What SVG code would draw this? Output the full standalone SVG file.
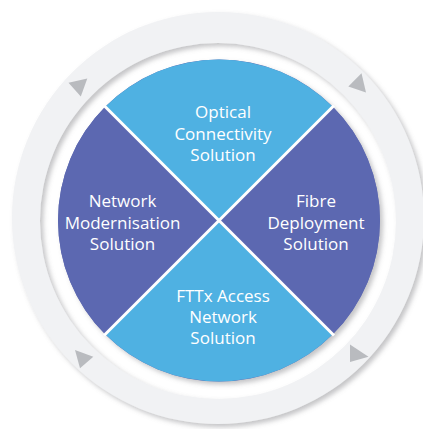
<svg xmlns="http://www.w3.org/2000/svg" width="423" height="429" viewBox="0 0 423 429">
  <defs>
    <filter id="shadow" x="-10%" y="-10%" width="125%" height="125%">
      <feDropShadow dx="3" dy="3" stdDeviation="2.5" flood-color="#7a7c80" flood-opacity="0.45"/>
    </filter>
  </defs>
  <style>
    .ring { fill: #f1f2f4; }
    .arrow { fill: #b9bbbf; }
    .light { fill: #4fb1e2; }
    .dark { fill: #5c68b1; }
    .divider { stroke: #ffffff; stroke-width: 3; fill: none; }
    .label { font-family: "Open Sans", "Liberation Sans", sans-serif; font-size: 17px; fill: #ffffff; text-anchor: middle; }
  </style>
  <rect width="423" height="429" fill="#ffffff"/>

  <g id="cycle-ring">
    <path class="ring" filter="url(#shadow)" fill-rule="evenodd"
      d="M12,218 A206,206 0 1 1 424,218 A206,206 0 1 1 12,218 Z M40,221 A178,178 0 1 0 396,221 A178,178 0 1 0 40,221 Z"/>
  </g>

  <g id="connectors">
    <polygon class="arrow" points="68.5,82.8 87.3,78.6 80.8,96.5"/>
    <polygon class="arrow" points="348.3,86.5 361.5,73.2 366,92.5"/>
    <polygon class="arrow" points="350,344.5 368.5,356.8 350,362"/>
    <polygon class="arrow" points="75,350 93.3,356.7 80,368.3"/>
  </g>

  <circle cx="219" cy="220.5" r="161" fill="#5c68b1" filter="url(#shadow)"/>

  <g id="optical-connectivity">
    <path class="light" d="M219,220.5 L105.2,106.7 A161,161 0 0 1 332.8,106.7 Z"/>
    <text class="label" x="223" y="118">Optical</text>
    <text class="label" x="223" y="139.5">Connectivity</text>
    <text class="label" x="223" y="161">Solution</text>
  </g>

  <g id="fibre-deployment">
    <path class="dark" d="M219,220.5 L332.8,106.7 A161,161 0 0 1 332.8,334.3 Z"/>
    <text class="label" x="316" y="207">Fibre</text>
    <text class="label" x="316" y="228.5">Deployment</text>
    <text class="label" x="316" y="250">Solution</text>
  </g>

  <g id="fttx-access">
    <path class="light" d="M219,220.5 L332.8,334.3 A161,161 0 0 1 105.2,334.3 Z"/>
    <text class="label" x="223" y="301.5">FTTx Access</text>
    <text class="label" x="223" y="322.5">Network</text>
    <text class="label" x="223" y="343.5">Solution</text>
  </g>

  <g id="network-modernisation">
    <path class="dark" d="M219,220.5 L105.2,334.3 A161,161 0 0 1 105.2,106.7 Z"/>
    <text class="label" x="122.5" y="207">Network</text>
    <text class="label" x="122.5" y="228.5">Modernisation</text>
    <text class="label" x="122.5" y="250">Solution</text>
  </g>

  <g id="dividers">
    <line class="divider" x1="104" y1="105.5" x2="334" y2="335.5"/>
    <line class="divider" x1="334" y1="105.5" x2="104" y2="335.5"/>
  </g>
</svg>
